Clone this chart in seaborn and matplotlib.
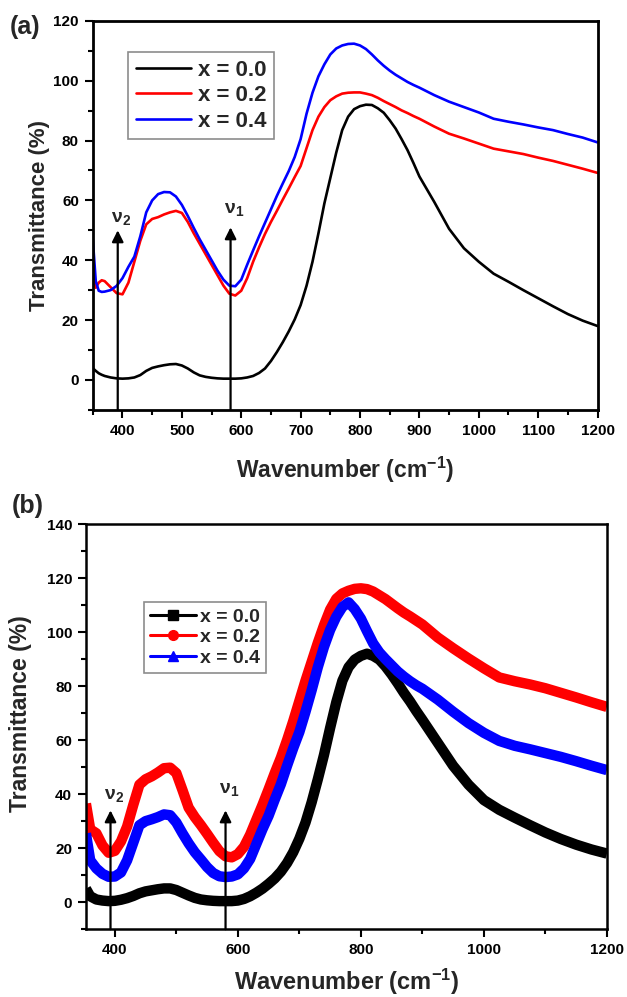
import numpy as np
import pandas as pd
import matplotlib
matplotlib.use("Agg")
import matplotlib.pyplot as plt
from matplotlib.lines import Line2D
from matplotlib.ticker import MultipleLocator
import seaborn as sns

# ---------------- data: FTIR transmittance spectra ----------------
samples = ["x = 0.0", "x = 0.2", "x = 0.4"]
colors = ["#000000", "#ff0000", "#0000ff"]
markers_b = ["s", "o", "^"]

# panel (a)
wn_a = ([350, 355, 360, 365, 370] + list(range(380, 901, 10))
        + list(range(925, 1201, 25)))
t_a_00 = [3.9, 3.0, 2.2, 1.7, 1.3,
          0.8, 0.5, 0.4, 0.5, 0.8, 1.6, 3.0, 4.0, 4.5, 4.9, 5.2, 5.3, 4.8, 3.8, 2.5,
          1.5, 1.0, 0.7, 0.5, 0.4, 0.4, 0.4, 0.5,
          0.8, 1.3, 2.3, 3.8, 6.3, 9.3, 12.6, 16.2, 20.2, 25.0,
          31.5, 39.5, 49.0, 59.0, 67.5, 76.0, 83.5, 88.0, 90.5, 91.5,
          92.0, 91.9, 90.8, 89.3, 86.8, 84.0, 80.5, 76.8, 72.5, 68.0,
          59.5, 50.5, 44.0, 39.5, 35.5, 32.8, 30.0, 27.3, 24.6, 22.0, 19.8, 18.0]
t_a_02 = [35.7, 30.8, 32.5, 33.3, 33.0,
          31.0, 29.0, 28.6, 32.5, 39.5, 46.5, 52.0, 53.8, 54.4, 55.3, 56.0, 56.5, 55.8, 52.8, 49.0,
          45.5, 42.0, 38.5, 35.0, 31.5, 28.8, 28.2, 29.8,
          34.0, 39.5, 44.3, 48.8, 52.8, 56.5, 60.3, 64.0, 67.8, 71.5,
          77.5, 83.5, 88.0, 91.2, 93.5, 94.8, 95.7, 96.0, 96.1, 96.1,
          95.7, 95.2, 94.3, 93.2, 92.2, 91.2, 90.1, 89.2, 88.2, 87.3,
          84.7, 82.3, 80.7, 79.0, 77.3, 76.4, 75.5, 74.3, 73.2, 71.9, 70.6, 69.2]
t_a_04 = [47.0, 33.0, 29.8, 29.4, 29.5,
          30.0, 31.4, 34.0, 37.8, 41.2, 48.0, 56.0, 60.0, 62.1, 62.8, 62.7, 61.3, 58.5, 54.8, 50.8,
          47.0, 43.5, 40.0, 36.5, 33.5, 31.5, 31.3, 33.5,
          38.5, 43.3, 48.0, 52.5, 57.0, 61.5, 65.7, 69.8, 74.5, 80.5,
          89.0, 96.0, 101.5, 105.5, 108.8, 110.8, 111.8, 112.3, 112.4, 111.8,
          110.6, 108.8, 106.8, 105.0, 103.4, 102.0, 100.8, 99.6, 98.6, 97.7,
          95.2, 93.0, 91.2, 89.4, 87.3, 86.3, 85.4, 84.4, 83.5, 82.2, 81.0, 79.4]

# panel (b)
wn_b = [353] + list(range(360, 901, 10)) + list(range(925, 1201, 25))
t_b_00 = [5.0,
          2.2, 1.0, 0.6, 0.4, 0.5, 0.9, 1.5, 2.3, 3.3, 4.0, 4.4, 4.8, 5.1, 5.1,
          4.5, 3.5, 2.5, 1.6, 1.0, 0.7, 0.5, 0.4, 0.4, 0.4, 0.6,
          1.2, 2.2, 3.5, 5.0, 6.8, 8.8, 11.3, 14.5, 18.5, 23.5,
          29.5, 37.0, 45.5, 54.5, 64.5, 74.0, 82.0, 87.0, 89.8, 91.2,
          92.0, 91.2, 89.8, 87.3, 84.3, 81.0, 77.5, 74.3, 70.8, 67.5,
          59.0, 50.5, 43.5, 37.8, 34.2, 31.3, 28.5, 25.8, 23.4, 21.3, 19.5, 18.0]
t_b_02 = [36.5,
          27.0, 25.5, 21.0, 18.3, 19.0, 22.5, 28.0, 36.0, 43.5, 45.5, 46.6, 48.0, 49.6, 49.8,
          47.8, 41.5, 35.0, 31.5, 28.5, 25.3, 22.0, 18.9, 17.0, 16.6, 17.8,
          20.5, 25.0, 30.5, 36.0, 41.8, 47.8, 53.5, 60.0, 67.0, 74.5,
          82.0, 89.0, 96.0, 102.5, 108.3, 112.3, 114.3, 115.3, 116.0, 116.2,
          115.9, 115.0, 113.6, 112.2, 110.5, 108.8, 107.2, 105.8, 104.3, 102.8,
          98.0, 94.0, 90.2, 86.6, 83.2, 81.8, 80.6, 79.2, 77.5, 75.8, 74.0, 72.3]
t_b_04 = [25.5,
          15.5, 12.5, 10.5, 9.4, 9.5, 11.0, 15.5, 22.0, 28.5, 30.0, 30.7, 31.5, 32.5, 32.2,
          29.5, 25.5, 21.8, 18.5, 15.8, 13.0, 10.8, 9.6, 9.3, 9.5, 10.3,
          12.5, 16.0, 21.5, 27.0, 32.0, 38.0, 43.7, 50.5, 57.0, 63.0,
          70.5, 78.5, 87.0, 94.5, 100.8, 105.7, 109.3, 111.0, 108.5, 105.0,
          100.3, 95.8, 92.5, 90.0, 87.7, 85.4, 83.5, 81.8, 80.3, 79.0,
          75.0, 70.5, 66.3, 62.7, 59.7, 57.9, 56.6, 55.2, 53.8, 52.2, 50.5, 48.9]

# vibrational band positions (nu2, nu1) and arrow tip heights
band_labels = ["\u03bd$_{2}$", "\u03bd$_{1}$"]
band_pos_a = [392, 582]
band_tip_a = [50, 51]
band_lab_a = [51.0, 54.0]
band_pos_b = [393, 580]
band_tip_b = [34, 34]
band_lab_b = [36.5, 38.5]

# ---------------- style ----------------
sns.set_style("ticks")
plt.rcParams["font.family"] = ["Liberation Sans", "DejaVu Sans"]
plt.rcParams["font.weight"] = "bold"
plt.rcParams["axes.labelweight"] = "bold"
plt.rcParams["mathtext.fontset"] = "custom"
plt.rcParams["mathtext.rm"] = "Liberation Sans:bold"
plt.rcParams["mathtext.bf"] = "Liberation Sans:bold"
plt.rcParams["mathtext.it"] = "Liberation Sans:bold"
plt.rcParams["mathtext.default"] = "bf"

fig = plt.figure(figsize=(6.27, 9.97), dpi=100)
ax_a = fig.add_axes([0.148, 0.589, 0.805, 0.390])
ax_b = fig.add_axes([0.137, 0.068, 0.831, 0.4064])


def long_frame(wn, series):
    rows = []
    for name, vals in zip(samples, series):
        rows.append(pd.DataFrame({"wn": wn, "T": vals, "sample": name}))
    return pd.concat(rows, ignore_index=True)


df_a = long_frame(wn_a, [t_a_00, t_a_02, t_a_04])
df_b = long_frame(wn_b, [t_b_00, t_b_02, t_b_04])
palette = dict(zip(samples, colors))

sns.lineplot(data=df_a, x="wn", y="T", hue="sample", palette=palette,
             linewidth=1.9, ax=ax_a, legend=False, sort=False,
             solid_joinstyle="round")
sns.lineplot(data=df_b, x="wn", y="T", hue="sample", palette=palette,
             linewidth=7.5, ax=ax_b, legend=False, sort=False,
             solid_joinstyle="round", solid_capstyle="butt")


def style_axes(ax, xlim, ylim, xmaj, xmin, ymaj, ymin, spine_w):
    ax.set_xlim(*xlim)
    ax.set_ylim(*ylim)
    ax.xaxis.set_major_locator(MultipleLocator(xmaj))
    ax.xaxis.set_minor_locator(MultipleLocator(xmin))
    ax.yaxis.set_major_locator(MultipleLocator(ymaj))
    ax.yaxis.set_minor_locator(MultipleLocator(ymin))
    for sp in ax.spines.values():
        sp.set_visible(True)
        sp.set_linewidth(spine_w)
        sp.set_color("black")
    ax.tick_params(which="both", direction="out", top=False, right=False,
                   width=1.5, colors="black")
    ax.tick_params(which="major", length=6, labelsize=11, pad=4)
    ax.tick_params(which="minor", length=3.5)
    for lab in ax.get_xticklabels() + ax.get_yticklabels():
        lab.set_fontweight("bold")


style_axes(ax_a, (350, 1200), (-10, 120), 100, 50, 20, 10, 2.0)
style_axes(ax_b, (353, 1200), (-10, 140), 200, 100, 20, 10, 1.8)

ax_a.set_xlabel("Wavenumber (cm$^{-1}$)", fontsize=16.5, fontweight="bold")
ax_a.set_ylabel("Transmittance (%)", fontsize=16, fontweight="bold")
ax_a.xaxis.set_label_coords(0.5, -0.115)
ax_a.yaxis.set_label_coords(-0.085, 0.5)

ax_b.set_xlabel("Wavenumber (cm$^{-1}$)", fontsize=17, fontweight="bold")
ax_b.set_ylabel("Transmittance (%)", fontsize=16.5, fontweight="bold")
ax_b.xaxis.set_label_coords(0.5, -0.093)
ax_b.yaxis.set_label_coords(-0.104, 0.533)

# band arrows with nu labels
for ax, pos, tips, labs in [(ax_a, band_pos_a, band_tip_a, band_lab_a),
                            (ax_b, band_pos_b, band_tip_b, band_lab_b)]:
    for lab, xp, tip, ly in zip(band_labels, pos, tips, labs):
        ax.annotate("", xy=(xp, tip), xytext=(xp, -10),
                    arrowprops=dict(arrowstyle="-|>", color="black", lw=1.6,
                                    mutation_scale=17, shrinkA=0, shrinkB=0))
        ax.text(xp + 6, ly, lab, ha="center", va="bottom",
                fontsize=14, fontweight="bold")

# legends
handles_a = [Line2D([0], [0], color=c, lw=1.9) for c in colors]
leg_a = ax_a.legend(handles_a, samples, loc="upper left", bbox_to_anchor=(0.07, 0.92),
                    fontsize=16, frameon=True, fancybox=False, handlelength=2.5,
                    borderpad=0.35, labelspacing=0.2, handletextpad=0.3,
                    borderaxespad=0)
leg_a.get_frame().set_edgecolor("#707070")
leg_a.get_frame().set_linewidth(1.2)
for t in leg_a.get_texts():
    t.set_fontweight("bold")

handles_b = [Line2D([0], [0], color=c, lw=2.2, marker=m, markersize=7)
             for c, m in zip(colors, markers_b)]
leg_b = ax_b.legend(handles_b, samples, loc="upper left", bbox_to_anchor=(0.111, 0.807),
                    fontsize=14, frameon=True, fancybox=False, handlelength=2.4,
                    borderpad=0.3, labelspacing=0.15, handletextpad=0.2,
                    borderaxespad=0)
leg_b.get_frame().set_edgecolor("#707070")
leg_b.get_frame().set_linewidth(1.2)
for t in leg_b.get_texts():
    t.set_fontweight("bold")

# panel tags
fig.text(0.015, 0.973, "(a)", fontsize=18, fontweight="bold", ha="left", va="center")
fig.text(0.018, 0.492, "(b)", fontsize=18, fontweight="bold", ha="left", va="center")

fig.savefig("out.png", dpi=100)
